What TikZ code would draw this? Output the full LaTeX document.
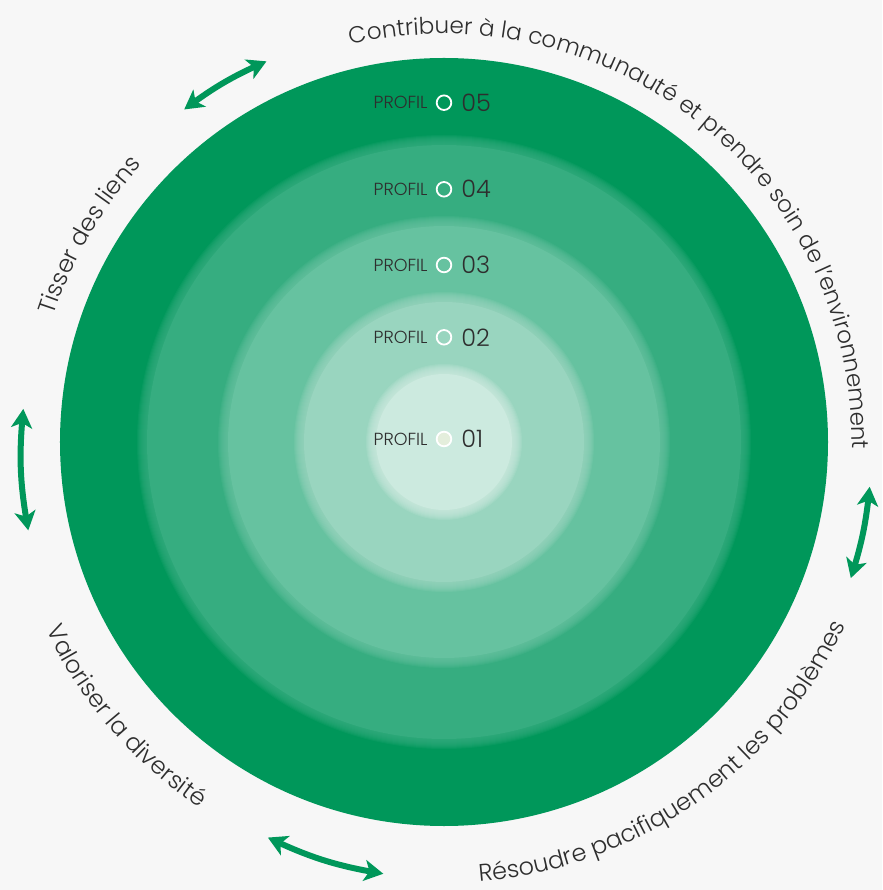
\documentclass[tikz,border=0pt]{standalone}
\usepackage{fontspec}
\setmainfont{Poppins Light}
\usetikzlibrary{positioning,arrows.meta,bending,decorations.text}
\definecolor{paper}{HTML}{F7F7F7}
\definecolor{ring5}{HTML}{00975A}
\definecolor{ring4}{HTML}{36AD80}
\definecolor{ring3}{HTML}{66C2A0}
\definecolor{ring2}{HTML}{99D5BF}
\definecolor{ring1}{HTML}{CCEADF}
\definecolor{ink}{HTML}{2E2E2E}
\definecolor{dotfill}{HTML}{E4EEDC}
\newcommand\arcfont{\fontsize{24}{28}\selectfont}
\newcommand\toparcfont{\fontsize{23.1}{27}\selectfont}
\tikzset{
  dot/.style={circle, draw=white, line width=1.8pt, minimum size=14.6pt, inner sep=0pt},
  tag/.style={inner sep=0pt, text=ink, font=\fontsize{17.5}{19}\selectfont},
  num/.style={inner sep=0pt, text=ink, font=\fontsize{24}{26}\selectfont},
  rim/.style={fill=#1, opacity=.16},
  cyclearrow/.style={draw=ring5, line width=6pt, {Stealth[length=19pt,width=21pt,inset=5pt]}-{Stealth[length=19pt,width=21pt,inset=5pt]}},
  arclabel/.style={decorate, decoration={text along path, text align=center, text color=ink, text={#1}}}
}
\begin{document}
\begin{tikzpicture}[x=1pt,y=1pt]
		\fill[paper] (-444,-448) rectangle (438,442);
		\useasboundingbox (-444,-448) rectangle (438,442);
		% rings, outer to inner, each with a soft rim
		\fill[ring5] (0,0) circle (384);
		\foreach \d in {1,...,10} \fill[rim=ring4] (0,0) circle (297+\d);
		\fill[ring4] (0,0) circle (297);
		\foreach \d in {1,...,10} \fill[rim=ring3] (0,0) circle (216+\d);
		\fill[ring3] (0,0) circle (216);
		\foreach \d in {1,...,10} \fill[rim=ring2] (0,0) circle (140+\d);
		\fill[ring2] (0,0) circle (140);
		\foreach \d in {1,...,10} \fill[rim=ring1] (0,0) circle (68+\d);
		\fill[ring1] (0,0) circle (68);
		% profile markers
		\node[dot] (d5) at (0,339.3) {};
		\node[dot] (d4) at (0,252.7) {};
		\node[dot] (d3) at (0,177) {};
		\node[dot] (d2) at (0,104.7) {};
		\node[dot, fill=dotfill] (d1) at (0,3) {};
		\node[tag, left=8pt of d5] (t5) {PROFIL};
		\node[tag, left=8pt of d4] (t4) {PROFIL};
		\node[tag, left=8pt of d3] (t3) {PROFIL};
		\node[tag, left=8pt of d2] (t2) {PROFIL};
		\node[tag, left=8pt of d1] (t1) {PROFIL};
		\node[num, right=9pt of d5] (n5) {05};
		\node[num, right=9pt of d4] (n4) {04};
		\node[num, right=9pt of d3] (n3) {03};
		\node[num, right=9pt of d2] (n2) {02};
		\node[num, right=9pt of d1] (n1) {01};
		% labels round the circle
		\path[arclabel={|\toparcfont|Contribuer à la communauté et prendre soin de l'environnement}] (111.1:408) arc[start angle=111.1, end angle=-8.9, radius=408];
		\path[arclabel={|\arcfont|Tisser des liens}] (169.75:410) arc[start angle=169.75, end angle=129.75, radius=410];
		\path[arclabel={|\arcfont|Valoriser la diversité}] (196.75:440) arc[start angle=196.75, end angle=244.75, radius=440];
		\path[arclabel={|\arcfont|Résoudre pacifiquement les problèmes}] (265:441) arc[start angle=265, end angle=345, radius=441];
		% arrows between the labels
		\coordinate (a1s) at (128:422);
		\coordinate (a1e) at (115:420);
		\coordinate (a2s) at (192:425);
		\coordinate (a2e) at (175.5:422);
		\coordinate (a3s) at (262:436);
		\coordinate (a3e) at (246:433);
		\coordinate (a4s) at (-6:428);
		\coordinate (a4e) at (-18.5:429);
		\draw[cyclearrow] (a1s) to[bend left=6.5] (a1e);
		\draw[cyclearrow] (a2s) to[bend left=8] (a2e);
		\draw[cyclearrow] (a3s) to[bend left=8] (a3e);
		\draw[cyclearrow] (a4s) to[bend left=6] (a4e);
	\end{tikzpicture}
\end{document}
